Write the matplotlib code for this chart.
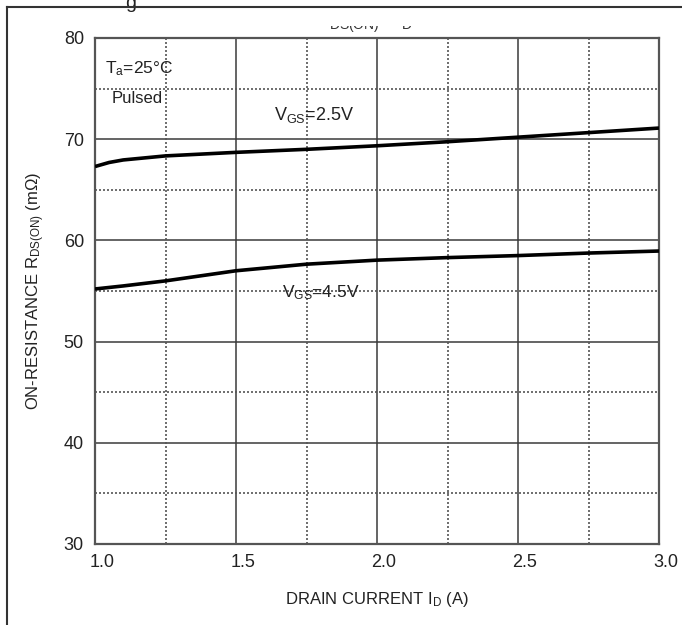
"""On-resistance vs drain current, datasheet style."""
import matplotlib
matplotlib.use("Agg")
import matplotlib.pyplot as plt  # noqa: E402
from matplotlib.lines import Line2D  # noqa: E402
from matplotlib.patches import Rectangle  # noqa: E402
from matplotlib.transforms import ScaledTranslation  # noqa: E402

# drain current (A) and on-resistance (mOhm)
i_d = [1.0, 1.05, 1.1, 1.25, 1.5, 1.75, 2.0, 2.25, 2.5, 2.75, 3.0]
r_vgs25 = [67.3, 67.7, 67.95, 68.35, 68.7, 69.0, 69.35, 69.75, 70.2, 70.65, 71.1]
r_vgs45 = [55.2, 55.35, 55.5, 56.0, 57.0, 57.65, 58.05, 58.3, 58.5, 58.75, 58.95]

x_ticks = [1.0, 1.5, 2.0, 2.5, 3.0]
x_minor = [1.25, 1.75, 2.25, 2.75]
y_ticks = [30, 40, 50, 60, 70, 80]
y_minor = [35, 45, 55, 65, 75]

plt.rcParams["font.family"] = ["Liberation Sans", "DejaVu Sans"]
plt.rcParams["mathtext.fontset"] = "custom"
plt.rcParams["mathtext.rm"] = "Liberation Sans"
plt.rcParams["mathtext.it"] = "Liberation Sans"

W, H = 682, 625
fig = plt.figure(figsize=(W / 100, H / 100), dpi=100)
ax = fig.add_axes([95 / W, 1 - 544 / H, (659 - 95) / W, (544 - 38) / H])

grid_c = "#3a3a3a"
for x in x_ticks[1:-1]:
    ax.axvline(x, color=grid_c, lw=1.1, zorder=1)
for y in y_ticks[1:-1]:
    ax.axhline(y, color=grid_c, lw=1.1, zorder=1)
for x in x_minor:
    ax.axvline(x, color="#555555", lw=1.2, ls=(0, (1.2, 1.2)), zorder=1)
for y in y_minor:
    ax.axhline(y, color="#555555", lw=1.2, ls=(0, (1.2, 1.2)), zorder=1)

ax.plot(i_d, r_vgs25, color="black", lw=2.6, zorder=3, solid_capstyle="butt")
ax.plot(i_d, r_vgs45, color="black", lw=2.6, zorder=3, solid_capstyle="butt")

ax.set_xlim(1.0, 3.0)
ax.set_ylim(30, 80)
ax.set_xticks(x_ticks)
ax.set_xticklabels(["%.1f" % v for v in x_ticks])
ax.set_yticks(y_ticks)
ax.tick_params(length=0, labelsize=13, colors="#222222")
ax.tick_params(axis="x", pad=7)
ax.tick_params(axis="y", pad=8)
shift = ScaledTranslation(7 / 100, 0, fig.dpi_scale_trans)
for lab in ax.get_xticklabels():
    lab.set_transform(lab.get_transform() + shift)
for sp in ax.spines.values():
    sp.set_color("#555555")
    sp.set_linewidth(1.6)

ax.set_xlabel(r"DRAIN CURRENT I$_{\rm D}$ (A)", fontsize=12, color="#222222",
              labelpad=14)
ax.set_ylabel(r"ON-RESISTANCE R$_{\rm DS(ON)}$ (m$\Omega$)", fontsize=12,
              color="#222222", labelpad=12)

ax.text(1.035, 76.5, r"T$_{\rm a}$=25°C", fontsize=12.5, color="#222222")
ax.text(1.06, 73.6, "Pulsed", fontsize=12, color="#222222")
ax.text(1.634, 71.9, r"V$_{\rm GS}$=2.5V", fontsize=13, color="#222222")
ax.text(1.662, 54.4, r"V$_{\rm GS}$=4.5V", fontsize=12.5, color="#222222")

# remains of the cropped title and caption above the chart
fig.text(371 / W, 1 - 34 / H, r"DS(ON)  $-$  D", fontsize=10, color="#333333",
         ha="center", va="bottom")
fig.text(131 / W, 1 - 8 / H, "g", fontsize=14, color="#222222",
         ha="center", va="baseline")
fig.patches.append(Rectangle((300 / W, 1 - 26 / H), 140 / W, 18 / H,
                             transform=fig.transFigure, facecolor="white",
                             edgecolor="none", zorder=5))
fig.lines.append(Line2D([7 / W, 1.0], [1 - 7 / H, 1 - 7 / H],
                        transform=fig.transFigure, color="#333333", lw=1.5,
                        zorder=6))
fig.lines.append(Line2D([7 / W, 7 / W], [0.0, 1 - 7 / H],
                        transform=fig.transFigure, color="#333333", lw=1.5,
                        zorder=6))

fig.savefig("out.png", dpi=100)
plt.close(fig)
